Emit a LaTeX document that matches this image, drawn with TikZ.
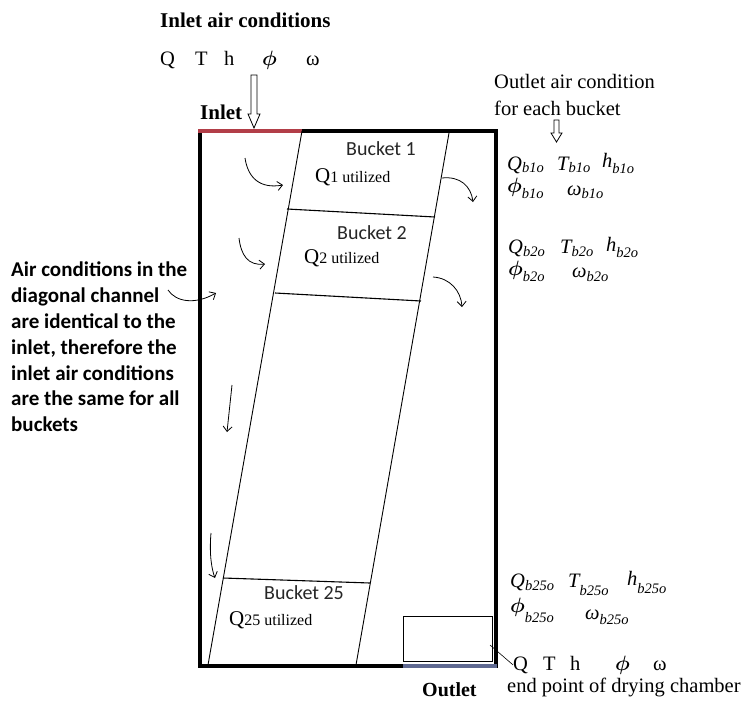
\documentclass[tikz,border=0pt]{standalone}
\usepackage{bm}
\usepackage{fontspec}
\setmainfont{Liberation Serif}
\newfontfamily\calib{Carlito}
\usetikzlibrary{arrows.meta}
\definecolor{inletred}{RGB}{178,62,72}
\definecolor{outletblue}{RGB}{95,105,145}
\newcommand\lsub[2]{\raisebox{-#1}{\fontsize{14.5}{14.5}\selectfont\itshape #2}}
\newcommand\bigQ[1]{{\fontsize{21}{21}\selectfont Q}{\fontsize{16}{16}\selectfont #1 utilized}}
\newcommand\bphi{\ensuremath{\bm{\phi}}}
\begin{document}
\begin{tikzpicture}[x=1pt,y=-1pt,
  txt/.style={inner sep=0pt, anchor=base west, font=\fontsize{20.5}{24}\selectfont},
  bold/.style={txt, font=\fontsize{21}{24}\selectfont\bfseries},
  bucket/.style={inner sep=0pt, anchor=base west, font=\fontsize{20}{24}\selectfont\calib, text=black!85},
  wall/.style={line width=3.5pt},
  thin/.style={line width=0.9pt},
  flow/.style={line width=0.8pt, -{Straight Barb[length=5pt,width=9pt]}},
  hollow/.style={line width=0.8pt, fill=white}]
\useasboundingbox (0,0) rectangle (747,702);

% chamber
\draw[wall] (200,131) rectangle (496,666);
\draw[line width=4pt, inletred] (198,131) -- (302,131);
\draw[line width=3.5pt, outletblue] (403,666) -- (497,666);
\draw[thin] (403,616) rectangle (492,661);

% diagonal channel walls and bucket separators
\coordinate (lt) at (302,131);
\coordinate (lb) at (208,665);
\coordinate (rt) at (449,133);
\coordinate (rb) at (356,665);
\draw[thin] (lt) -- (lb);
\draw[thin] (rt) -- (rb);
\draw[line width=1.1pt] (287,209) -- (435,217);
\draw[line width=1.1pt] (275,293) -- (421,301);
\draw[line width=1.1pt] (223,578) -- (370,583);

% inlet
\node[bold] (title) at (160,27) {Inlet air conditions};
\node[txt] (iq) at (160,65) {Q};
\node[txt] (it) at (195,65) {T};
\node[txt] (ih) at (224,65) {h};
\node[txt] (ip) at (262,65) {\bphi};
\node[txt] (iw) at (306,65) {ω};
\node[bold] (inlet) at (200,119) {Inlet};
\draw[hollow] (251,75) -- (257,75) -- (257,114) -- (260,114) -- (254,128) -- (248,114) -- (251,114) -- cycle;

% buckets
\node[bucket] (b1) at (346,155) {Bucket 1};
\node[txt] (q1u) at (315,182) {\bigQ{1}};
\node[bucket] (b2) at (337,239) {Bucket 2};
\node[txt] (q2u) at (304,263) {\bigQ{2}};
\node[bucket] (b25) at (264,599) {Bucket 25};
\node[txt] (q25u) at (229,625) {\bigQ{25}};

% flow arrows
\draw[flow] (245,158) .. controls (248,178) and (260,189) .. (283,185);
\draw[flow] (239,238) .. controls (241,255) and (248,266) .. (265,264);
\draw[flow] (442,178) .. controls (460,176) and (471,186) .. (473,202);
\draw[flow] (433,277) .. controls (450,278) and (461,291) .. (462,307);
\draw[flow] (232,385) -- (227,432);
\draw[flow] (211,533) .. controls (209,555) and (212,570) .. (215,578);

% annotation
\node[inner sep=0pt, anchor=north west, align=left,
      font=\fontsize{21}{25.8}\selectfont\calib\bfseries] (note) at (11,262)
  {Air conditions in the\\diagonal channel\\are identical to the\\inlet, therefore the\\inlet air conditions\\are the same for all\\buckets};
\draw[flow] (168,290) .. controls (176,302) and (195,305) .. (216,293);

% outlet conditions per bucket
\node[txt] (otitle1) at (494,88) {Outlet air condition};
\node[txt] (otitle2) at (494,115) {for each bucket};
\draw[hollow] (554,120) -- (559,120) -- (559,133) -- (562,133) -- (556.5,142) -- (551,133) -- (554,133) -- cycle;

\node[txt] (qb1) at (507,170) {\itshape Q\lsub{2pt}{b1o}};
\node[txt] (tb1) at (557,170) {\itshape T\lsub{2pt}{b1o}};
\node[txt] (hb1) at (602,167) {\itshape h\lsub{6pt}{b1o}};
\node[txt] (pb1) at (507,192) {\bphi\lsub{6pt}{b1o}};
\node[txt] (wb1) at (567,195) {\itshape ω\lsub{3pt}{b1o}};

\node[txt] (qb2) at (508,253) {\itshape Q\lsub{3pt}{b2o}};
\node[txt] (tb2) at (560,253) {\itshape T\lsub{3pt}{b2o}};
\node[txt] (hb2) at (606,251) {\itshape h\lsub{6pt}{b2o}};
\node[txt] (pb2) at (508,275) {\bphi\lsub{6pt}{b2o}};
\node[txt] (wb2) at (572,277) {\itshape ω\lsub{4pt}{b2o}};

\node[txt] (qb25) at (510,587) {\itshape Q\lsub{3pt}{b25o}};
\node[txt] (tb25) at (568,587) {\itshape T\lsub{8pt}{b25o}};
\node[txt] (hb25) at (627,585) {\itshape h\lsub{8pt}{b25o}};
\node[txt] (pb25) at (510,612) {\bphi\lsub{10pt}{b25o}};
\node[txt] (wb25) at (585,619) {\itshape ω\lsub{5pt}{b25o}};

% chamber end point
\node[txt] (eq) at (513,670) {Q};
\node[txt] (et) at (543,670) {T};
\node[txt] (eh) at (570,670) {h};
\node[txt] (ep) at (615,670) {\bphi};
\node[txt] (ew) at (653,670) {ω};
\node[txt] (eend) at (507,692) {end point of drying chamber};
\coordinate (boxr) at (490,645);
\draw[line width=0.6pt] (boxr) -- (eq.west);
\node[bold, font=\fontsize{20}{24}\selectfont\bfseries] (outlet) at (422,696) {Outlet};
\end{tikzpicture}
\end{document}
